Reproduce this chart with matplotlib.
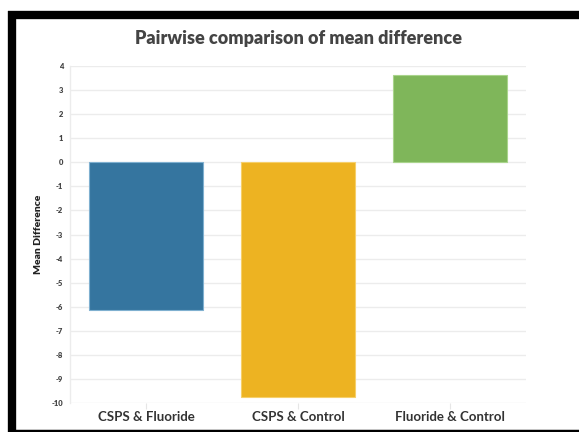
import matplotlib.pyplot as plt
from matplotlib.lines import Line2D

# data
PAIRS = ["CSPS & Fluoride", "CSPS & Control", "Fluoride & Control"]
MEAN_DIFF = [-6.12, -9.73, 3.61]
BAR_COLORS = ["#35759f", "#edb322", "#7fb65a"]
EDGE_COLORS = ["#7fb0d0", "#f6cf6a", "#a9d48c"]
Y_TICKS = list(range(-10, 5))

plt.rcParams['font.family'] = ['Lato', 'DejaVu Sans']

fig = plt.figure(figsize=(5.79, 4.32), dpi=100)
ax = fig.add_axes([0.1209, 0.0671, 0.7876, 0.7801])

ax.bar(range(len(PAIRS)), MEAN_DIFF, width=0.75, color=BAR_COLORS,
       edgecolor=EDGE_COLORS, linewidth=0.8, zorder=3)

ax.set_xlim(-0.5, 2.5)
ax.set_ylim(-10, 4)
ax.set_yticks(Y_TICKS)
ax.set_yticklabels([str(t) for t in Y_TICKS], fontsize=5.5,
                   fontweight='heavy', color='#444444')
ax.set_xticks(range(len(PAIRS)))
ax.set_xticklabels(PAIRS, fontsize=9.5, fontweight='bold', color='#333333')
ax.tick_params(axis='y', length=0, pad=5)
ax.tick_params(axis='x', length=4, color='#e6e6e6', pad=2)

ax.grid(axis='y', color='#ececec', linewidth=1.0, zorder=0)
for side in ['top', 'right', 'bottom']:
    ax.spines[side].set_visible(False)
ax.spines['left'].set_color('#ececec')
ax.spines['left'].set_linewidth(1.0)

ax.set_ylabel("Mean Difference", fontsize=7.5, fontweight='heavy',
              color='#222222', labelpad=6)
fig.text(0.5155, 0.91, "Pairwise comparison of mean difference",
         ha='center', va='center', fontsize=13, fontweight='heavy',
         color='#444444')

# black frame around the chart as it appears in the screenshot
W, H = 579.0, 432.0
fig.add_artist(Line2D([8 / W, 1.0], [1 - 15 / H, 1 - 15 / H],
                      color='black', linewidth=6, solid_capstyle='butt'))
fig.add_artist(Line2D([12 / W, 12 / W], [1 - 11 / H, 0.0],
                      color='black', linewidth=6, solid_capstyle='butt'))
fig.add_artist(Line2D([8 / W, 1.0], [1.5 / H, 1.5 / H],
                      color='black', linewidth=2.5, solid_capstyle='butt'))

fig.savefig("out.png", dpi=100)
